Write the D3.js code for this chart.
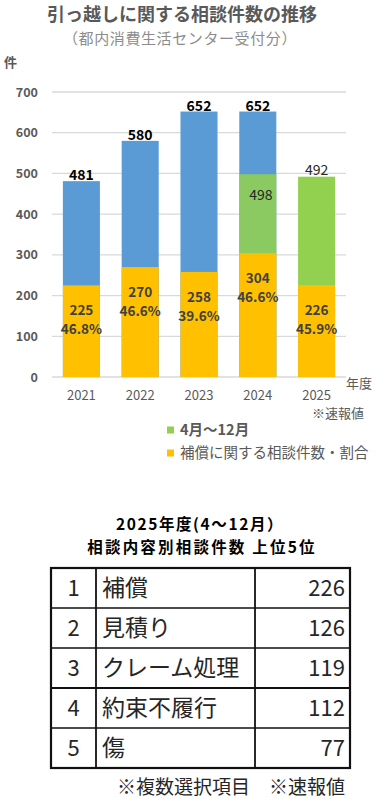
<!DOCTYPE html>
<html><head><meta charset="utf-8">
<script src="https://cdn.jsdelivr.net/npm/d3@7"></script>
<style>
html,body{margin:0;padding:0;background:#fff;}
svg{display:block;font-family:"Noto Sans CJK JP","Noto Sans",sans-serif;}
</style></head>
<body><svg id="c" width="382" height="800"></svg>
<script>
// ---- data ----
const years = ['2021','2022','2023','2024','2025'];
const fullYearTotal = [481, 580, 652, 652, null];
const aprToDecTotal = [null, null, null, 498, 492];
const compensation = [225, 270, 258, 304, 226];
const compensationShare = ['46.8%','46.6%','39.6%','46.6%','45.9%'];
const yTicks = [0,100,200,300,400,500,600,700];
const legendLabels = ['4月～12月','補償に関する相談件数・割合'];

const ranks = [1,2,3,4,5];
const topCategories = ['補償','見積り','クレーム処理','約束不履行','傷'];
const topCounts = [226,126,119,112,77];

// ---- drawing ----
const svg = d3.select('#c');
const BLUE='#5B9BD5', ORANGE='#FFC000', GREEN='#92D050', GRAY='#595959';

svg.append('text').attr('x',182).attr('y',21).attr('text-anchor','middle')
  .attr('font-size',18).attr('font-weight','bold').attr('fill',GRAY)
  .text('引っ越しに関する相談件数の推移');
svg.append('text').attr('x',180).attr('y',44).attr('text-anchor','middle')
  .attr('font-size',15).attr('letter-spacing',0.6).attr('fill','#8c8c8c')
  .text('（都内消費生活センター受付分）');
svg.append('text').attr('x',4).attr('y',67)
  .attr('font-size',13).attr('font-weight','bold').attr('fill',GRAY).text('件');

const x = d3.scaleBand().domain(years).range([52,346]).paddingInner(0.37).paddingOuter(0.185);
const y = d3.scaleLinear().domain([0,700]).range([377,92]);

// grid
svg.append('g').selectAll('line').data(yTicks).join('line')
  .attr('x1',52).attr('x2',346).attr('y1',d=>y(d)).attr('y2',d=>y(d))
  .attr('stroke','#d9d9d9').attr('stroke-width',d=>d===0?1.6:1.3);

// y axis labels
const yAxis = d3.axisLeft(y).tickValues(yTicks).tickSize(0).tickPadding(0);
const gy = svg.append('g').attr('transform','translate(38,0)').call(yAxis);
gy.select('.domain').remove();
gy.selectAll('text').attr('font-size',12.5).attr('font-weight','bold').attr('fill',GRAY)
  .attr('font-family','"Noto Sans CJK JP",sans-serif');

// x axis labels
const xAxis = d3.axisBottom(x).tickSize(0).tickPadding(0);
const gx = svg.append('g').attr('transform','translate(0,391)').call(xAxis);
gx.select('.domain').remove();
gx.selectAll('text').attr('font-size',13).attr('fill',GRAY)
  .attr('font-family','"Noto Sans CJK JP",sans-serif');

svg.append('text').attr('x',346).attr('y',388).attr('font-size',13).attr('fill',GRAY).text('年度');
svg.append('text').attr('x',312).attr('y',418).attr('font-size',13).attr('fill',GRAY).text('※速報値');

const bw = x.bandwidth();
const rows = years.map((yr,i)=>({yr, full:fullYearTotal[i], part:aprToDecTotal[i], comp:compensation[i], share:compensationShare[i]}));

// blue full-year bars
svg.append('g').selectAll('rect').data(rows.filter(d=>d.full!=null)).join('rect')
  .attr('x',d=>x(d.yr)).attr('width',bw).attr('y',d=>y(d.full)).attr('height',d=>y(0)-y(d.full))
  .attr('fill',BLUE);
// green Apr-Dec bars
svg.append('g').selectAll('rect').data(rows.filter(d=>d.part!=null)).join('rect')
  .attr('x',d=>x(d.yr)).attr('width',bw).attr('y',d=>y(d.part)).attr('height',d=>y(0)-y(d.part))
  .attr('fill',GREEN).attr('fill-opacity',d=>d.full!=null?0.88:1);
// orange compensation bars
svg.append('g').selectAll('rect').data(rows).join('rect')
  .attr('x',d=>x(d.yr)).attr('width',bw).attr('y',d=>y(d.comp)).attr('height',d=>y(0)-y(d.comp))
  .attr('fill',ORANGE);

// labels
const lg = svg.append('g').attr('text-anchor','middle');
rows.forEach(d=>{
  const cx = x(d.yr)+bw/2;
  if(d.full!=null){
    lg.append('text').attr('x',cx).attr('y',y(d.full)-1).attr('font-size',14)
      .attr('font-weight','bold').attr('fill','#000').text(d.full);
    if(d.part!=null){
      lg.append('text').attr('x',cx+3).attr('y',y(d.part)+26).attr('font-size',14)
        .attr('fill','#262626').text(d.part);
    }
  } else if(d.part!=null){
    lg.append('text').attr('x',cx).attr('y',y(d.part)-2).attr('font-size',14)
      .attr('fill','#262626').text(d.part);
  }
  lg.append('text').attr('x',cx).attr('y',y(d.comp)+30).attr('font-size',13.5)
    .attr('font-weight','bold').attr('fill','#404040').text(d.comp);
  lg.append('text').attr('x',cx).attr('y',y(d.comp)+49).attr('font-size',13.5)
    .attr('font-weight','bold').attr('fill','#404040').text(d.share);
});

// legend
const legColors=[GREEN,ORANGE];
legendLabels.forEach((t,i)=>{
  const ly = 430 + i*23;
  svg.append('rect').attr('x',167).attr('y',ly-3.5).attr('width',7).attr('height',7).attr('fill',legColors[i]);
  svg.append('text').attr('x',180).attr('y',ly+5).attr('font-size',14.5)
    .attr('font-weight', i===0?'bold':'normal').attr('fill',GRAY).text(t);
});

// ---- table ----
svg.append('text').attr('x',200).attr('y',530).attr('text-anchor','middle')
  .attr('font-size',15.5).attr('letter-spacing',1.6).attr('font-weight','bold').attr('fill','#000').text('2025年度(4～12月）');
svg.append('text').attr('x',202).attr('y',553).attr('text-anchor','middle')
  .attr('font-size',15.5).attr('letter-spacing',2.2).attr('font-weight','bold').attr('fill','#000').text('相談内容別相談件数 上位5位');

const colX = [51,96,255,350];
const rowY = d3.scaleBand().domain(ranks).range([568,768]);
const rh = rowY.bandwidth();
const tg = svg.append('g');
ranks.forEach((r,i)=>{
  const top = rowY(r);
  tg.append('text').attr('x',(colX[0]+colX[1])/2).attr('y',top+rh/2+8).attr('text-anchor','middle')
    .attr('font-size',22).attr('fill','#262626').text(r);
  tg.append('text').attr('x',colX[1]+6).attr('y',top+rh/2+8)
    .attr('font-size',23).attr('fill','#262626').text(topCategories[i]);
  tg.append('text').attr('x',colX[3]-5).attr('y',top+rh/2+8).attr('text-anchor','end')
    .attr('font-size',22).attr('fill','#262626').text(topCounts[i]);
});
// inner lines
ranks.slice(1).forEach(r=>{
  tg.append('line').attr('x1',colX[0]).attr('x2',colX[3]).attr('y1',rowY(r)).attr('y2',rowY(r))
    .attr('stroke','#111').attr('stroke-width',r===4?2.2:1.6);
});
[colX[1],colX[2]].forEach(cx=>{
  tg.append('line').attr('x1',cx).attr('x2',cx).attr('y1',568).attr('y2',768)
    .attr('stroke','#111').attr('stroke-width',1.8);
});
tg.append('rect').attr('x',colX[0]).attr('y',568).attr('width',colX[3]-colX[0]).attr('height',200)
  .attr('fill','none').attr('stroke','#111').attr('stroke-width',2.2);

svg.append('text').attr('x',345).attr('y',794).attr('text-anchor','end')
  .attr('font-size',19).attr('fill','#262626').text('※複数選択項目　※速報値');
</script></body></html>
